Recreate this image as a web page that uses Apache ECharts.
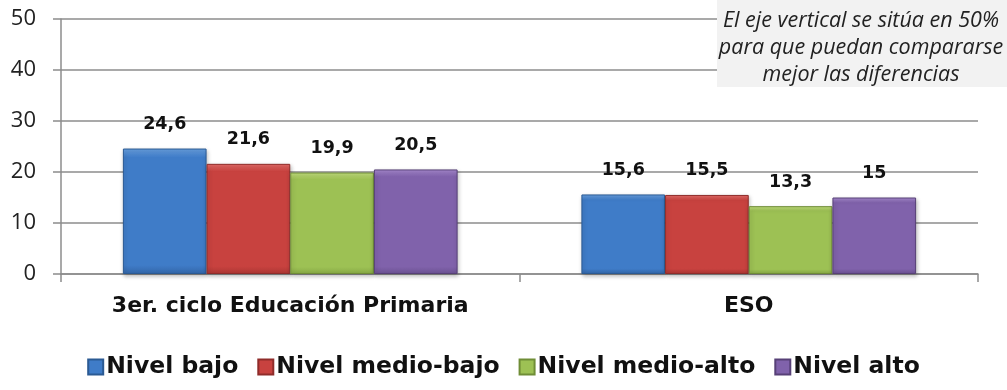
<!DOCTYPE html>
<html>
<head>
<meta charset="utf-8">
<script src="https://cdn.jsdelivr.net/npm/echarts@6/dist/echarts.min.js"></script>
<style>
  html, body { margin: 0; padding: 0; background: #ffffff; }
  #chart { width: 1007px; height: 390px; }
</style>
</head>
<body>
<div id="chart"></div>
<script>
// Categories and series values
const categories = ['3er. ciclo Educación Primaria', 'ESO'];
const seriesNames = ['Nivel bajo', 'Nivel medio-bajo', 'Nivel medio-alto', 'Nivel alto'];
const nivelBajo = [24.6, 15.6];
const nivelMedioBajo = [21.6, 15.5];
const nivelMedioAlto = [19.9, 13.3];
const nivelAlto = [20.5, 15];
const yTicks = [0, 10, 20, 30, 40, 50];
const noteLines = ['El eje vertical se sitúa en 50%', 'para que puedan compararse', 'mejor las diferencias'];

// Bevelled bar palette: [light top, base, dark bottom, border]
const palette = [
  ['#6aa2e2', '#3f7cc8', '#3366a8', '#2b5a93'],
  ['#e56c69', '#c8423f', '#ac3633', '#8f2c2a'],
  ['#c3e07e', '#9dc154', '#86a845', '#6f8d36'],
  ['#a98bd2', '#8062ab', '#6b5192', '#574077']
];

function barGradient(c) {
  return new echarts.graphic.LinearGradient(0, 0, 0, 1, [
    { offset: 0, color: c[0] },
    { offset: 0.07, color: c[1] },
    { offset: 0.93, color: c[1] },
    { offset: 1, color: c[2] }
  ]);
}

const seriesData = [nivelBajo, nivelMedioBajo, nivelMedioAlto, nivelAlto];
const fmt = v => String(v).replace('.', ',');

const chart = echarts.init(document.getElementById('chart'), null, { renderer: 'canvas' });

chart.setOption({
  animation: false,
  grid: { left: 61, right: 29, top: 19, bottom: 116, containLabel: false },
  legend: {
    bottom: 6,
    left: 'center',
    itemWidth: 15,
    itemHeight: 15,
    itemGap: 19,
    icon: 'rect',
    textStyle: { fontFamily: 'DejaVu Sans', fontWeight: 'bold', fontSize: 23.5, color: '#111', padding: [0, 0, 0, -2] },
    data: seriesNames
  },
  xAxis: {
    type: 'category',
    data: categories,
    axisLine: { lineStyle: { color: '#8c8c8c', width: 1.5 } },
    axisTick: { show: true, length: 8, alignWithLabel: false, interval: 0, lineStyle: { color: '#8c8c8c', width: 1.5 } },
    axisLabel: { interval: 0, hideOverlap: false, fontFamily: 'DejaVu Sans', fontWeight: 'bold', fontSize: 22, color: '#111', margin: 21 }
  },
  yAxis: {
    type: 'value',
    min: 0,
    max: 50,
    interval: 10,
    axisLine: { show: true, lineStyle: { color: '#8c8c8c', width: 1.5 } },
    axisTick: { show: true, length: 8, lineStyle: { color: '#8c8c8c', width: 1.5 } },
    splitLine: { lineStyle: { color: '#8c8c8c', width: 1.5 } },
    axisLabel: {
      fontFamily: 'Open Sans', fontSize: 22, color: '#222', margin: 25,
      formatter: v => (yTicks.indexOf(v) >= 0 ? String(v) : '')
    }
  },
  series: seriesData.map((d, i) => ({
    name: seriesNames[i],
    type: 'bar',
    data: d,
    barGap: '0%',
    barCategoryGap: '27%',
    itemStyle: {
      color: barGradient(palette[i]),
      borderColor: palette[i][3],
      borderWidth: 1,
      shadowColor: 'rgba(0,0,0,0.25)',
      shadowBlur: 4,
      shadowOffsetX: 1,
      shadowOffsetY: 2
    },
    label: {
      show: true,
      position: 'top',
      distance: 15,
      fontFamily: 'DejaVu Sans',
      fontWeight: 'bold',
      fontSize: 17.5,
      color: '#111',
      formatter: p => fmt(p.value)
    }
  })),
  graphic: [
    {
      type: 'rect',
      x: 717,
      y: 0,
      shape: { x: 0, y: 0, width: 290, height: 87 },
      style: { fill: '#f2f2f2' },
      z: 10
    },
    {
      type: 'text',
      x: 861,
      y: 7,
      z: 11,
      style: {
        text: noteLines.join('\n'),
        align: 'center',
        textAlign: 'center',
        verticalAlign: 'top',
        fontFamily: 'Open Sans',
        fontStyle: 'italic',
        fontSize: 21.5,
        lineHeight: 27,
        fill: '#222'
      }
    }
  ]
});
</script>
</body>
</html>
